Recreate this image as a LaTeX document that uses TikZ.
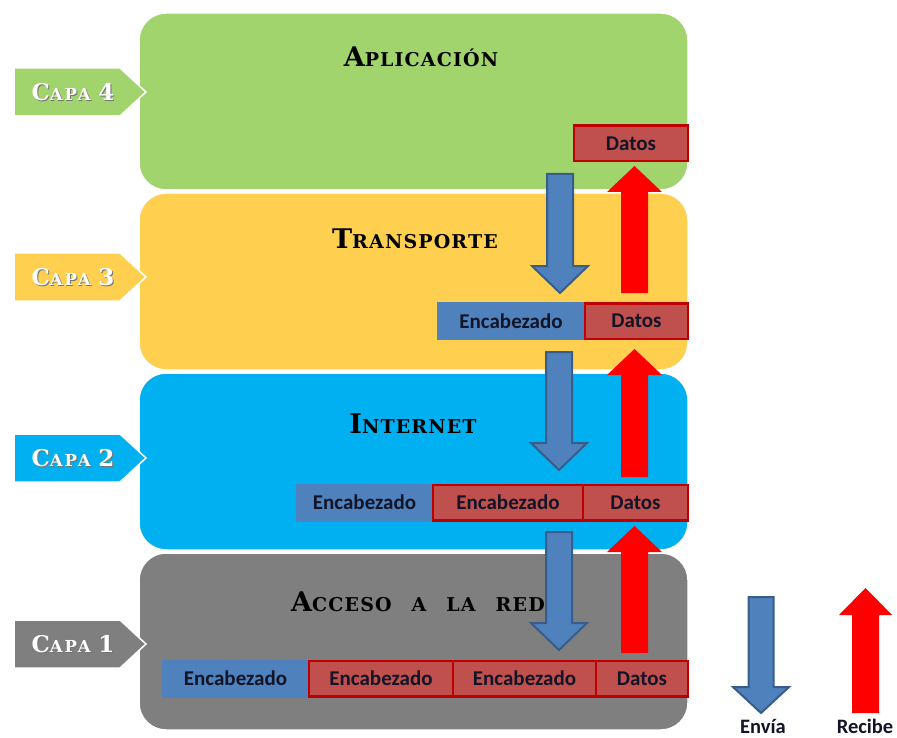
\documentclass[tikz,border=0pt]{standalone}
\usepackage{fontspec}
\newfontfamily\calfont{Carlito}
\newfontfamily\serwidefont[LetterSpace=6]{DejaVu Serif}
\newfontfamily\capafont[LetterSpace=12]{DejaVu Serif}
\definecolor{cgreen}{RGB}{161,212,108}
\definecolor{cyellow}{RGB}{255,208,79}
\definecolor{cblue}{RGB}{0,176,240}
\definecolor{cgray}{RGB}{127,127,127}
\definecolor{bfill}{RGB}{79,129,189}
\definecolor{bline}{RGB}{56,93,138}
\definecolor{rfill}{RGB}{192,80,77}
\definecolor{rline}{RGB}{192,0,0}
\definecolor{txt}{RGB}{18,20,40}
\newcommand\TSC[2]{{\fontsize{27}{27}\selectfont #1}{\fontsize{19}{19}\selectfont #2}}
\newcommand\LSC[3]{{\fontsize{23}{23}\selectfont #1}{\fontsize{16.5}{16.5}\selectfont #2}{\fontsize{23}{23}\selectfont #3}}
\newcommand\WSP{\hspace{20pt}}
% down arrow: cx, top, headbase, tip, shaft half width, head half width
\newcommand\DownArrow[7]{\path[#7] (#1-#5,#2) -- (#1+#5,#2) -- (#1+#5,#3) -- (#1+#6,#3) -- (#1,#4) -- (#1-#6,#3) -- (#1-#5,#3) -- cycle;}
% up arrow: cx, bottom, headbase, tip, shaft half width, head half width
\newcommand\UpArrow[7]{\path[#7] (#1-#5,#2) -- (#1+#5,#2) -- (#1+#5,#3) -- (#1+#6,#3) -- (#1,#4) -- (#1-#6,#3) -- (#1-#5,#3) -- cycle;}
\begin{document}
\begin{tikzpicture}[x=1pt,y=-1pt,
  layer/.style={draw=white,line width=1.5pt,rounded corners=27pt,minimum width=549pt,minimum height=177pt,inner sep=0pt},
  ttl/.style={font=\serwidefont\bfseries,text=black,anchor=base,inner sep=0pt},
  capa/.style={draw=white,line width=1.5pt},
  capatxt/.style={font=\capafont\bfseries,text=white,inner sep=0pt},
  capashadow/.style={font=\capafont\bfseries,text=black!55,inner sep=0pt},
  bbox/.style={fill=bfill,draw=none,minimum height=38pt,inner sep=0pt,font=\calfont\bfseries\fontsize{21}{21}\selectfont,text=txt},
  rbox/.style={fill=rfill,draw=rline,line width=2.5pt,minimum height=35.5pt,inner sep=0pt,font=\calfont\bfseries\fontsize{21}{21}\selectfont,text=txt},
  barrow/.style={fill=bfill,draw=bline,line width=2pt},
  rarrow/.style={fill=red,draw=none},
  lgd/.style={font=\calfont\bfseries\fontsize{20.5}{21}\selectfont,text=txt,inner sep=0pt}
]
\useasboundingbox (0,0) rectangle (897,738);
% layers
\node[layer,fill=cgreen] (L4) at (413.5,101.5) {};
\node[layer,fill=cyellow] (L3) at (413.5,281.5) {};
\node[layer,fill=cblue] (L2) at (413.5,461.5) {};
\node[layer,fill=cgray] (L1) at (413.5,641.5) {};
% titles
\node[ttl] (T4) at (421,67) {\TSC{A}{PLICACIÓN}};
\node[ttl] (T3) at (415,249) {\TSC{T}{RANSPORTE}};
\node[ttl] (T2) at (413,433) {\TSC{I}{NTERNET}};
\node[ttl] (T1) at (418,611) {\TSC{A}{CCESO\WSP A\WSP LA\WSP RED}};
% capa labels
\foreach \cy/\col/\num in {92/cgreen/4,277/cyellow/3,458/cblue/2,644/cgray/1}{
  \path[capa,fill=\col] (14,\cy-24) -- (120,\cy-24) -- (146,\cy) -- (120,\cy+24) -- (14,\cy+24) -- cycle;
  \node[capashadow] (cs\num) at (74,\cy+1) {\LSC{C}{APA }{\num}};
  \node[capatxt] (ct\num) at (73,\cy) {\LSC{C}{APA }{\num}};
}
% data boxes layer 4
\node[rbox,minimum width=114pt] (d4) at (631,143.5) {Datos};
% layer 3
\node[bbox,minimum width=148pt] (e3a) at (511,321) {Encabezado};
\node[rbox,minimum width=103pt] (d3) at (636.5,321) {Datos};
% layer 2
\node[bbox,minimum width=137pt] (e2a) at (364.5,502.5) {Encabezado};
\node[rbox,minimum width=150pt] (e2b) at (508,502.5) {Encabezado};
\node[rbox,minimum width=105pt] (d2) at (635.5,502.5) {Datos};
% layer 1
\node[bbox,minimum width=147pt] (e1a) at (235.5,678.5) {Encabezado};
\node[rbox,minimum width=144pt] (e1b) at (381,678.5) {Encabezado};
\node[rbox,minimum width=143pt] (e1c) at (524.5,678.5) {Encabezado};
\node[rbox,minimum width=92pt] (d1) at (642,678.5) {Datos};
% blue arrows (send)
\DownArrow{560}{174}{266}{293}{13}{28}{barrow}
\DownArrow{559}{352}{443}{470}{13}{28}{barrow}
\DownArrow{559}{532}{623}{650}{13}{28}{barrow}
% red arrows (receive)
\UpArrow{634.5}{293}{192}{166}{13.5}{27.5}{rarrow}
\UpArrow{634.5}{477}{375}{349}{13.5}{27.5}{rarrow}
\UpArrow{634.5}{653}{552}{526}{13.5}{27.5}{rarrow}
% legend
\DownArrow{761}{597}{687}{713}{12.5}{28}{barrow}
\UpArrow{865.5}{713}{615}{588}{13.5}{26.5}{rarrow}
\node[lgd] (env) at (763,726) {Envía};
\node[lgd] (rec) at (865,726) {Recibe};
\end{tikzpicture}
\end{document}
